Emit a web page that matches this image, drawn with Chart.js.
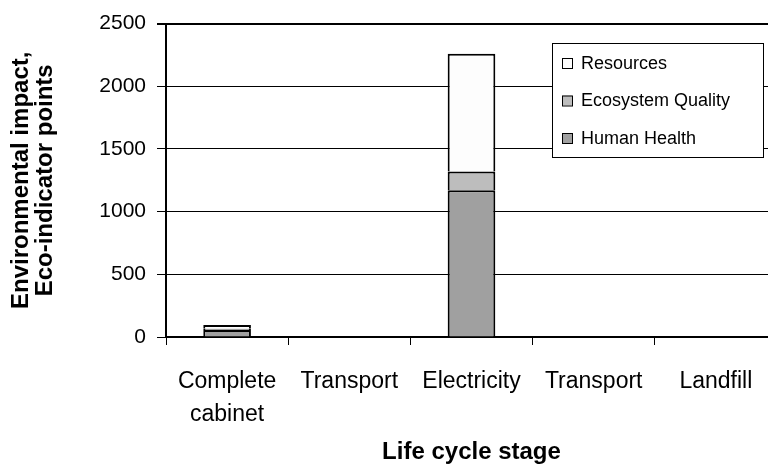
<!DOCTYPE html>
<html>
<head>
<meta charset="utf-8">
<script src="https://cdn.jsdelivr.net/npm/chart.js@4/dist/chart.umd.min.js"></script>
<style>
html,body{margin:0;padding:0;background:#fff;overflow:hidden;width:768px;height:465px;}
canvas{display:block;}
</style>
</head>
<body>
<canvas id="c" width="790" height="465" style="width:790px;height:465px"></canvas>
<script>
const categories = [['Complete', 'cabinet'], 'Transport', 'Electricity', 'Transport', 'Landfill'];
const humanHealth = [55, 0, 1170, 0, 0];
const ecosystemQuality = [10, 0, 150, 0, 0];
const resources = [30, 0, 940, 0, 0];
const yTicks = [0, 500, 1000, 1500, 2000, 2500];
const seriesNames = ['Human Health', 'Ecosystem Quality', 'Resources'];
const yTitle = ['Environmental impact,', 'Eco-indicator points'];
const xTitle = 'Life cycle stage';

const FONT = "'Liberation Sans', Arial, sans-serif";

const legendBox = {
  id: 'legendBox',
  afterDraw(chart) {
    const ctx = chart.ctx;
    const x0 = 552, y0 = 43, w = 211, h = 114;
    ctx.save();
    ctx.fillStyle = '#fff';
    ctx.fillRect(x0, y0, w, h);
    ctx.strokeStyle = '#000';
    ctx.lineWidth = 1;
    ctx.strokeRect(x0 + 0.5, y0 + 0.5, w, h);
    const ds = chart.data.datasets.slice().reverse();
    ctx.font = "18px " + FONT;
    ctx.textBaseline = 'middle';
    ctx.textAlign = 'left';
    ds.forEach((d, i) => {
      const cy = y0 + 20 + i * 37.5;
      ctx.fillStyle = d.backgroundColor;
      ctx.fillRect(562, cy - 5, 10, 10);
      ctx.strokeStyle = '#000';
      ctx.lineWidth = 1;
      ctx.strokeRect(562.5, cy - 4.5, 10, 10);
      ctx.fillStyle = '#000';
      ctx.fillText(d.label, 581, cy + 1);
    });
    ctx.restore();
  }
};

const bw = c => (c.raw ? 2 : 0);

new Chart(document.getElementById('c'), {
  type: 'bar',
  data: {
    labels: categories,
    datasets: [
      { label: seriesNames[0], data: humanHealth, backgroundColor: '#a0a0a0', borderColor: '#000', borderWidth: bw, borderSkipped: 'start' },
      { label: seriesNames[1], data: ecosystemQuality, backgroundColor: '#bdbdbd', borderColor: '#000', borderWidth: bw, borderSkipped: 'start' },
      { label: seriesNames[2], data: resources, backgroundColor: '#fdfdfd', borderColor: '#000', borderWidth: bw, borderSkipped: 'start' }
    ]
  },
  options: {
    responsive: false,
    devicePixelRatio: 1,
    animation: false,
    layout: { padding: { left: 0, right: 13, top: 23, bottom: 0 } },
    datasets: { bar: { categoryPercentage: 1, barPercentage: 0.39 } },
    plugins: { legend: { display: false }, tooltip: { enabled: false } },
    scales: {
      x: {
        stacked: true,
        offset: true,
        afterFit(s) { s.height = 128; },
        border: { display: true, color: '#000', width: 2 },
        grid: { display: true, offset: true, drawOnChartArea: false, drawTicks: true, tickLength: 8, tickColor: '#000', lineWidth: 1 },
        ticks: { color: '#000', font: { family: FONT, size: 23, lineHeight: 1.4 }, padding: 21, maxRotation: 0, autoSkip: false },
        title: { display: true, text: xTitle, color: '#000', font: { family: FONT, size: 24, weight: 'bold', lineHeight: 1.0 }, padding: { top: 0, bottom: 1 } }
      },
      y: {
        stacked: true,
        min: 0, max: 2500,
        afterFit(s) { s.width = 166; },
        afterBuildTicks(s) { s.ticks = yTicks.map(v => ({ value: v })); },
        border: { display: true, color: '#000', width: 2 },
        grid: { color: '#000', lineWidth: c => (c.tick && c.tick.value === 2500 ? 2 : 1), drawTicks: true, tickLength: 9, tickColor: '#000' },
        ticks: { color: '#000', font: { family: FONT, size: 21 }, padding: 11, callback: v => String(v) },
        title: { display: true, text: yTitle, color: '#000', font: { family: FONT, size: 24, weight: 'bold', lineHeight: 1.0 }, padding: { top: 9, bottom: 0 } }
      }
    }
  },
  plugins: [legendBox]
});
</script>
</body>
</html>
